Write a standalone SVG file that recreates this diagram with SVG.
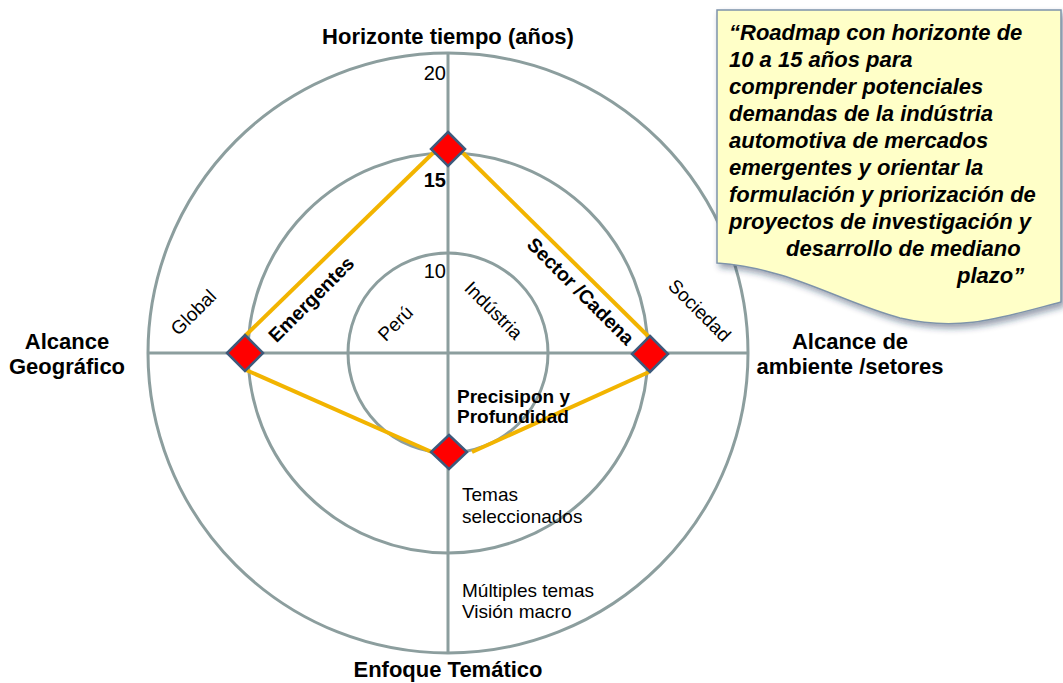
<svg xmlns="http://www.w3.org/2000/svg" width="1063" height="683" viewBox="0 0 1063 683">
  <defs>
    <filter id="shadow" x="-10%" y="-10%" width="130%" height="130%">
      <feDropShadow dx="3" dy="4" stdDeviation="3" flood-color="#1f2f4f" flood-opacity="0.45"/>
    </filter>
    <style>
      .ring { fill: none; stroke: #8C9E9E; stroke-width: 3; }
      .axis { stroke: #8C9E9E; stroke-width: 3; }
      .link { stroke: #F2B400; stroke-width: 4; stroke-linecap: butt; fill: none; }
      .mark { fill: #FF0000; stroke: #3D5A7C; stroke-width: 2.5; stroke-linejoin: miter; }
      .t { font-family: "Liberation Sans", Arial, sans-serif; fill: #000; }
      .title { font-size: 22px; font-weight: bold; text-anchor: middle; }
      .lab { font-size: 19px; }
      .blab { font-size: 19.5px; font-weight: bold; }
      .num { font-size: 20px; text-anchor: end; }
      .quote { font-size: 22px; font-weight: bold; font-style: italic; }
    </style>
  </defs>

  <rect x="0" y="0" width="1063" height="683" fill="#FFFFFF"/>

  <!-- radar rings and axes -->
  <g id="grid">
    <circle class="ring" cx="448" cy="353" r="300"/>
    <circle class="ring" cx="448" cy="353" r="200"/>
    <circle class="ring" cx="448" cy="353" r="100"/>
    <line class="axis" x1="448" y1="53" x2="448" y2="654"/>
    <line class="axis" x1="148" y1="353" x2="748" y2="353"/>
  </g>

  <!-- connectors between the markers -->
  <g id="connectors">
    <line class="link" x1="433" y1="153" x2="245" y2="336"/>
    <line class="link" x1="463" y1="153" x2="649" y2="337"/>
    <line class="link" x1="246" y1="370" x2="434" y2="453"/>
    <line class="link" x1="649" y1="372" x2="472" y2="452"/>
  </g>

  <!-- markers -->
  <g id="node-tiempo">
    <polygon class="mark" points="448,132 465,149 448,166 431,149"/>
  </g>
  <g id="node-geografico">
    <polygon class="mark" points="245,335 263,353 245,371 227,353"/>
  </g>
  <g id="node-ambiente">
    <polygon class="mark" points="650,336 668,354 650,372 632,354"/>
  </g>
  <g id="node-tematico">
    <polygon class="mark" points="449,435 467,452 449,469 431,452"/>
  </g>

  <!-- axis titles -->
  <g id="axis-titles">
    <text class="t title" x="448" y="44">Horizonte tiempo (años)</text>
    <text class="t title" x="67" y="349">Alcance</text>
    <text class="t title" x="67" y="374">Geográfico</text>
    <text class="t title" x="850" y="349">Alcance de</text>
    <text class="t title" x="850" y="374">ambiente /setores</text>
    <text class="t title" x="448" y="677">Enfoque Temático</text>
  </g>

  <!-- scale values -->
  <g id="scale">
    <text class="t num" x="446" y="80">20</text>
    <text class="t num" x="446" y="187" font-weight="bold">15</text>
    <text class="t num" x="446" y="278">10</text>
  </g>

  <!-- ring labels -->
  <g id="ring-labels">
    <text class="t lab" text-anchor="middle" transform="translate(198,317) rotate(-45)">Global</text>
    <text class="t lab" text-anchor="middle" transform="translate(400,328) rotate(-45)">Perú</text>
    <text class="t lab" text-anchor="middle" transform="translate(489,315) rotate(45)">Indústria</text>
    <text class="t lab" text-anchor="middle" transform="translate(695,315) rotate(45)">Sociedad</text>
    <text class="t blab" text-anchor="middle" transform="translate(316,304) rotate(-45)">Emergentes</text>
    <text class="t blab" text-anchor="middle" transform="translate(576,296) rotate(45)">Sector /Cadena</text>
    <text class="t" font-size="19" font-weight="bold" x="457" y="403">Precisipon y</text>
    <text class="t" font-size="19" font-weight="bold" x="457" y="423">Profundidad</text>
    <text class="t lab" x="462" y="501">Temas</text>
    <text class="t lab" x="462" y="523">seleccionados</text>
    <text class="t lab" x="462" y="597">Múltiples temas</text>
    <text class="t lab" x="462" y="618">Visión macro</text>
  </g>

  <!-- quotation callout -->
  <g id="callout">
    <path d="M717,10 L1061,10 L1061,302 C1000,318 960,332 900,318 C840,302 790,268 717,263 Z"
          fill="#FFFFC8" stroke="#7E93AA" stroke-width="1.5" filter="url(#shadow)"/>
    <text class="t quote" x="729" y="40">“Roadmap con horizonte de</text>
    <text class="t quote" x="729" y="67">10 a 15 años para</text>
    <text class="t quote" x="729" y="94">comprender potenciales</text>
    <text class="t quote" x="729" y="121">demandas de la indústria</text>
    <text class="t quote" x="729" y="148">automotiva de mercados</text>
    <text class="t quote" x="729" y="175">emergentes y orientar la</text>
    <text class="t quote" x="729" y="202">formulación y priorización de</text>
    <text class="t quote" x="729" y="229">proyectos de investigación y</text>
    <text class="t quote" x="786" y="256">desarrollo de mediano</text>
    <text class="t quote" x="957" y="283">plazo”</text>
  </g>
</svg>
